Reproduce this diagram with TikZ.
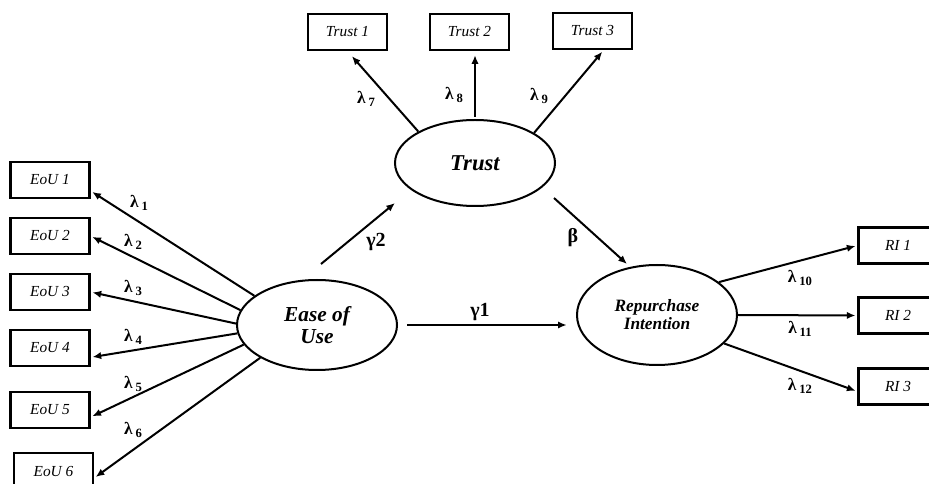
\documentclass[tikz,border=0pt]{standalone}
\usepackage{fontspec}
\setmainfont{Liberation Serif}
\usetikzlibrary{arrows.meta,shapes.geometric}
\newcommand{\lsub}[1]{λ\,{\fontsize{9.5}{10}\selectfont\raisebox{-2.5pt}{#1}}}
\begin{document}
\begin{tikzpicture}[
    x=0.75pt, y=-0.75pt,
    box/.style={draw, line width=1.8pt, minimum width=59pt, minimum height=27pt, inner sep=0pt, font=\fontsize{11.5}{13}\selectfont\itshape},
    latent/.style={draw, ellipse, line width=1.5pt, minimum width=120pt, inner sep=0pt, align=center, font=\bfseries\itshape},
    arr/.style={-{Latex[length=6.5pt,width=5.5pt]}, line width=1.5pt},
    lam/.style={font=\fontsize{13}{15}\selectfont\bfseries},
    coef/.style={font=\fontsize{15}{17}\selectfont\bfseries}
]
    \useasboundingbox (0,0) rectangle (929,484);

    % latent variables
    \node[latent, minimum height=67.5pt, font=\fontsize{16}{17}\selectfont\bfseries\itshape] (eou) at (317,325) {Ease of\\Use};
    \node[latent, minimum height=64.5pt, font=\fontsize{17}{19}\selectfont\bfseries\itshape] (trust) at (475,163) {Trust};
    \node[latent, minimum height=75pt, font=\fontsize{13}{13.5}\selectfont\bfseries\itshape] (rep) at (657,315) {Repurchase\\Intention};

    % indicators
    \node[box] (e1) at (50,180) {EoU 1};
    \node[box] (e2) at (50,236) {EoU 2};
    \node[box] (e3) at (50,292) {EoU 3};
    \node[box] (e4) at (50,348) {EoU 4};
    \node[box] (e5) at (50,410) {EoU 5};
    \node[box] (e6) at (53.5,471) {EoU 6};

    \node[box] (t1) at (347.5,32) {Trust 1};
    \node[box] (t2) at (469.5,32) {Trust 2};
    \node[box] (t3) at (592.5,31) {Trust 3};

    \node[box] (r1) at (898,245.5) {RI 1};
    \node[box] (r2) at (898,315.5) {RI 2};
    \node[box] (r3) at (898,386.5) {RI 3};

    % loadings
    \draw[arr, shorten >=1.5pt] (eou.155) -- (e1.-15);
    \draw[arr, shorten >=1.5pt] (eou.169) -- (e2.east);
    \draw[arr, shorten >=1.5pt] (eou.179) -- (e3.east);
    \draw[arr, shorten >=1.5pt] (eou.186) -- (e4.-13);
    \draw[arr, shorten >=1.5pt] (eou.195) -- (e5.-10);
    \draw[arr, shorten >=1.5pt] (eou.210) -- (e6.-10);

    \draw[arr, shorten >=5pt] (trust.151) -- (t1.south);
    \draw[arr, shorten <=1.5pt, shorten >=3pt] (trust.north) -- (trust.north |- t2.south);
    \draw[arr, shorten >=1.5pt] (trust.27) -- (t3.-60);

    \draw[arr, shorten >=1.5pt] (rep.28.5) -- (r1.west);
    \draw[arr, shorten >=1.5pt] (rep.east) -- (r2.west);
    \draw[arr, shorten >=1.5pt] (rep.-23.6) -- (r3.187);

    % structural paths
    \draw[arr, shorten <=7pt, shorten >=7pt] (eou.east) -- (eou.east -| rep.west);
    \draw[arr] ([shift={(4,-15)}]eou.north) -- ([shift={(1,40)}]trust.west);
    \draw[arr] ([shift={(-2,35)}]trust.east) -- ([shift={(-30,0)}]rep.north);

    \node[lam] (l1) at (139,203) {\lsub{1}};
    \node[lam] (l2) at (133,242) {\lsub{2}};
    \node[lam] (l3) at (133,288) {\lsub{3}};
    \node[lam] (l4) at (133,337) {\lsub{4}};
    \node[lam] (l5) at (133,384) {\lsub{5}};
    \node[lam] (l6) at (133,430) {\lsub{6}};
    \node[lam] (l7) at (366,99) {\lsub{7}};
    \node[lam] (l8) at (454,95) {\lsub{8}};
    \node[lam] (l9) at (539,96) {\lsub{9}};
    \node[lam] (l10) at (800,278) {\lsub{10}};
    \node[lam] (l11) at (800,329) {\lsub{11}};
    \node[lam] (l12) at (800,386) {\lsub{12}};

    \node[coef] (g1) at (480,312) {γ1};
    \node[coef] (g2) at (376,242) {γ2};
    \node[coef] (b) at (573,238) {β};
\end{tikzpicture}
\end{document}
